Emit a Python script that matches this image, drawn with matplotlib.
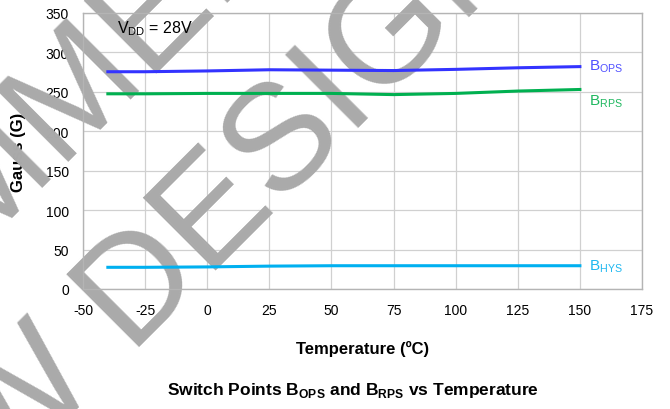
import matplotlib
matplotlib.use("Agg")
import matplotlib.pyplot as plt

plt.rcParams['font.family'] = ['Liberation Sans', 'DejaVu Sans']
plt.rcParams['mathtext.fontset'] = 'custom'
plt.rcParams['mathtext.rm'] = 'Liberation Sans'
plt.rcParams['mathtext.bf'] = 'Liberation Sans:bold'
plt.rcParams['axes.unicode_minus'] = False

# switch points vs temperature, VDD = 28V
temp = [-40, -25, 0, 25, 50, 75, 100, 125, 150]
b_ops = [275.5, 275.5, 276.5, 278, 277.5, 277, 278.5, 280.5, 282]
b_rps = [247.5, 247.5, 248, 248, 248, 246.5, 248, 251, 253]
b_hys = [27.5, 27.5, 28, 29, 29.5, 29.5, 29.5, 29.5, 29.5]

x_ticks = [-50, -25, 0, 25, 50, 75, 100, 125, 150, 175]
y_ticks = [0, 50, 100, 150, 200, 250, 300, 350]

fig = plt.figure(figsize=(6.7, 4.1), dpi=100)
ax = fig.add_axes([0.1239, 0.2927, 0.8343, 0.6732])

ax.plot(temp, b_ops, color='#3333ff', lw=2.2, zorder=3)
ax.plot(temp, b_rps, color='#00b050', lw=2.2, zorder=3)
ax.plot(temp, b_hys, color='#00b0f0', lw=2.2, zorder=3)

ax.set_xlim(-50, 175)
ax.set_ylim(0, 350)
ax.set_xticks(x_ticks)
ax.set_yticks(y_ticks)
ax.grid(True, color='#d0d0d0', lw=0.9)
ax.tick_params(length=0, labelsize=10, pad=10)
for s in ax.spines.values():
    s.set_color('#b4b4b4')
    s.set_linewidth(1.0)

ax.set_xlabel('Temperature (ºC)', fontsize=12, fontweight='bold', labelpad=17)
ax.set_ylabel('Gauss (G)', fontsize=12, fontweight='bold', labelpad=14)

ax.text(-36.3, 326, r'V$_{\mathrm{DD}}$ = 28V', fontsize=11.5, va='baseline')
ax.text(153.5, 283, r'B$_{\mathrm{OPS}}$', color='#5050ff', fontsize=11, va='center')
ax.text(153.5, 239, r'B$_{\mathrm{RPS}}$', color='#20b860', fontsize=11, va='center')
ax.text(153.5, 29.5, r'B$_{\mathrm{HYS}}$', color='#20b8f0', fontsize=11, va='center')

fig.text(0.527, 0.048,
         r'Switch Points B$_{\mathbf{OPS}}$ and B$_{\mathbf{RPS}}$ vs Temperature',
         fontsize=12.5, fontweight='bold', ha='center', va='center')

# watermark across the plot
wm = dict(fontsize=108, color='#aaaaaa', rotation=45, rotation_mode='anchor',
          ha='center', va='baseline', transform=fig.transFigure,
          clip_on=False, zorder=2)
ax.text(0.139, 0.666, 'NOT RECOMMENDED FOR', **wm)
ax.text(0.345, 0.378, 'NEW DESIGNS', **wm)

fig.savefig('out.png', dpi=100)
